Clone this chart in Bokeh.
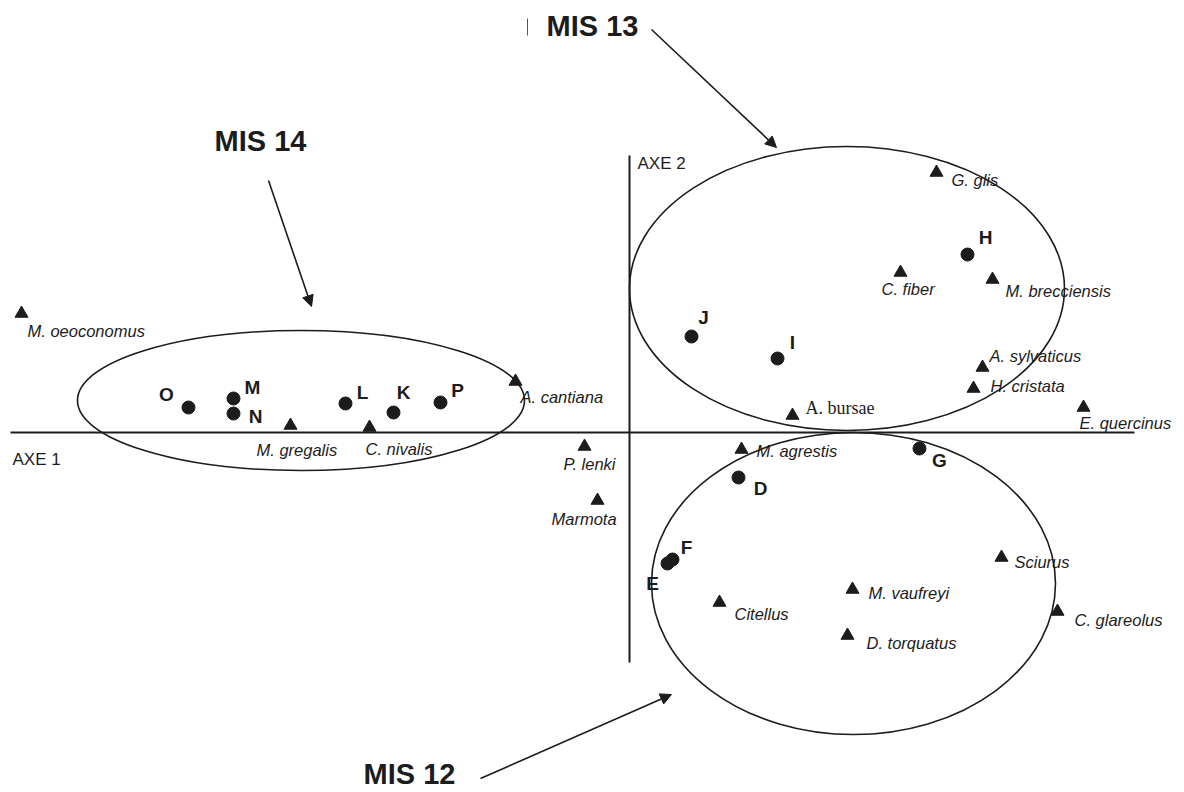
from bokeh.plotting import figure
from bokeh.models import ColumnDataSource, Arrow, NormalHead, Range1d
from bokeh.embed import file_html
from bokeh.resources import INLINE
from bokeh.core.properties import value

# ---- data: correspondence analysis scores (axis 1, axis 2) ----
site_names = ["O", "M", "N", "L", "K", "P", "J", "I", "H", "G", "D", "F", "E"]
site_ax1 = [-4.41, -3.96, -3.96, -2.84, -2.36, -1.89, 0.62, 1.48, 3.38, 2.90, 1.09, 0.43, 0.38]
site_ax2 = [0.25, 0.34, 0.19, 0.29, 0.20, 0.30, 0.96, 0.74, 1.78, -0.16, -0.45, -1.27, -1.31]

species_names = ["M. oeoconomus", "A. cantiana", "M. gregalis", "C. nivalis", "P. lenki",
                 "Marmota", "G. glis", "C. fiber", "M. brecciensis", "A. sylvaticus",
                 "H. cristata", "A. bursae", "E. quercinus", "M. agrestis", "Sciurus",
                 "M. vaufreyi", "Citellus", "D. torquatus", "C. glareolus"]
species_ax1 = [-6.08, -1.14, -3.39, -2.60, -0.45, -0.32, 3.07, 2.71, 3.63, 3.53,
               3.44, 1.63, 4.54, 1.12, 3.72, 2.23, 0.90, 2.18, 4.28]
species_ax2 = [1.19, 0.51, 0.07, 0.05, -0.14, -0.68, 2.60, 1.60, 1.53, 0.65,
               0.44, 0.17, 0.25, -0.17, -1.25, -1.57, -1.70, -2.03, -1.79]

group_names = ["MIS 14", "MIS 13", "MIS 12"]
group_cx = [-3.285, 2.175, 2.24]
group_cy = [0.32, 1.44, -1.51]
group_w = [4.47, 4.35, 4.04]
group_h = [1.40, 2.84, 3.02]

# ---- layout (screen-pixel label offsets, not data) ----
PX = 100.0  # pixels per unit
site_dx = [-22, 19, 22, 17, 10, 17, 12, 15, 18, 20, 22, 14, -15]
site_dy = [-13, -11, 3, -11, -20, -12, -19, -16, -17, 12, 11, -12, 20]
sp_dx = [6, 5, -34, -4, -21, -46, 15, -19, 13, 7, 17, 13, -4, 15, 13, 16, 15, 19, 17]
sp_dy = [17, 15, 24, 21, 17, 18, 7, 16, 11, -12, -3, -8, 15, 1, 4, 3, 11, 7, 8]

group_label_xy = [(-3.69, 2.92), (-0.37, 4.07), (-2.20, -3.41)]
arrows = [((-3.61, 2.52), (-3.18, 1.26)), ((0.22, 4.03), (1.47, 2.85)), ((-1.49, -3.46), (0.42, -2.62))]

INK = "#1c1c1c"
SANS = "Liberation Sans"

p = figure(width=1184, height=792, x_range=Range1d(-6.29, 5.55), y_range=Range1d(-3.60, 4.32),
           x_axis_location=None, y_axis_location=None, toolbar_location=None,
           output_backend="svg", min_border=0)
p.outline_line_color = None
p.background_fill_color = "white"
p.border_fill_color = "white"
p.xgrid.visible = False
p.ygrid.visible = False

# axes lines
p.segment(x0=[-6.19, 0.0], y0=[0.0, 2.77], x1=[5.05, 0.0], y1=[0.0, -2.30],
          line_color=INK, line_width=2)
# small stray tick near MIS 13
p.segment(x0=[-1.02], y0=[4.14], x1=[-1.02], y1=[3.97], line_color="#555555", line_width=1)

p.text(x=[-6.17, 0.08], y=[-0.27, 2.69], text=["AXE 1", "AXE 2"], text_align="left",
       text_baseline="middle", text_font=value(SANS), text_font_size="17px", text_color=INK)

# ellipses
gsrc = ColumnDataSource(dict(x=group_cx, y=group_cy, w=group_w, h=group_h))
p.ellipse(x="x", y="y", width="w", height="h", source=gsrc, fill_color=None,
          line_color=INK, line_width=1.6)

# arrows + group labels
for (s, e) in arrows:
    p.add_layout(Arrow(end=NormalHead(size=11, fill_color=INK, line_color=INK, line_width=1),
                       x_start=s[0], y_start=s[1], x_end=e[0], y_end=e[1],
                       line_color=INK, line_width=1.6))
p.text(x=[g[0] for g in group_label_xy], y=[g[1] for g in group_label_xy], text=group_names,
       text_align="center", text_baseline="middle", text_font=value(SANS),
       text_font_style="bold", text_font_size="29px", text_color=INK)

# sites
ssrc = ColumnDataSource(dict(x=site_ax1, y=site_ax2, name=site_names,
                             lx=[x + dx / PX for x, dx in zip(site_ax1, site_dx)],
                             ly=[y - dy / PX for y, dy in zip(site_ax2, site_dy)]))
p.scatter(x="x", y="y", source=ssrc, marker="circle", size=13, fill_color=INK, line_color=INK)
p.text(x="lx", y="ly", text="name", source=ssrc, text_align="center", text_baseline="middle",
       text_font=value(SANS), text_font_style="bold", text_font_size="19px", text_color=INK)

# species
sp_lx = [x + dx / PX for x, dx in zip(species_ax1, sp_dx)]
sp_ly = [y - dy / PX for y, dy in zip(species_ax2, sp_dy)]
p.scatter(x=species_ax1, y=species_ax2, marker="triangle", size=13, fill_color=INK, line_color=INK)
ital = [i for i, n in enumerate(species_names) if n != "A. bursae"]
serif = [i for i, n in enumerate(species_names) if n == "A. bursae"]
p.text(x=[sp_lx[i] for i in ital], y=[sp_ly[i] for i in ital], text=[species_names[i] for i in ital],
       text_align="left", text_baseline="middle", text_font=value(SANS), text_font_style="italic",
       text_font_size="16.5px", text_color=INK)
p.text(x=[sp_lx[i] for i in serif], y=[sp_ly[i] for i in serif], text=[species_names[i] for i in serif],
       text_align="left", text_baseline="middle", text_font=value("Liberation Serif"),
       text_font_size="18px", text_color=INK)

open("out.html", "w").write(file_html(p, INLINE))
